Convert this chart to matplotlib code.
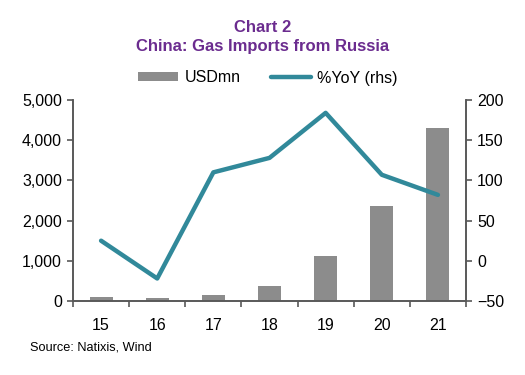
import matplotlib
matplotlib.use("Agg")
import matplotlib.pyplot as plt
import numpy as np
from matplotlib.ticker import FuncFormatter

plt.rcParams['font.family'] = ['Liberation Sans', 'DejaVu Sans']

years = ['15', '16', '17', '18', '19', '20', '21']
usd_mn = [100, 75, 150, 385, 1130, 2370, 4300]
yoy = [25, -22, 110, 128, 184, 107, 82]

purple = '#6B2C8F'
teal = '#31899A'
grey = '#8C8C8C'
axis_col = '#595959'

fig = plt.figure(figsize=(5.25, 3.75), dpi=100)
ax = fig.add_axes([73/525, 1 - 301/375, (466-73)/525, 201/375])
ax2 = ax.twinx()

x = np.arange(len(years))
ax.bar(x, usd_mn, width=0.41, color=grey, label='USDmn', zorder=2)
ax2.plot(x, yoy, color=teal, lw=3.2, solid_capstyle='round', label='%YoY (rhs)')

ax.set_xlim(-0.5, len(years) - 0.5)
ax.set_ylim(0, 5000)
ax.set_yticks(range(0, 5001, 1000))
ax.yaxis.set_major_formatter(FuncFormatter(lambda v, p: f'{int(v):,}'))
ax2.set_ylim(-50, 200)
ax2.set_yticks(range(-50, 201, 50))

ax.set_xticks(x)
ax.set_xticklabels(years)
ax.set_xticks(np.arange(-0.5, len(years), 1), minor=True)
ax.tick_params(axis='x', which='major', length=0, pad=12)
ax.tick_params(axis='x', which='minor', length=4, color=axis_col, width=1.2)

for a in (ax, ax2):
    a.spines['top'].set_visible(False)
    for s in ('left', 'right', 'bottom'):
        a.spines[s].set_color(axis_col)
        a.spines[s].set_linewidth(1.2)
    a.tick_params(axis='y', length=4, width=1.2, color=axis_col, labelsize=11.5, pad=4)
ax.tick_params(axis='x', labelsize=11.5)

fig.text(0.5, 1 - 27/375, 'Chart 2', ha='center', va='center', color=purple,
         fontsize=12, fontweight='bold')
fig.text(0.5, 1 - 46/375, 'China: Gas Imports from Russia', ha='center', va='center',
         color=purple, fontsize=12, fontweight='bold')

h1, l1 = ax.get_legend_handles_labels()
h2, l2 = ax2.get_legend_handles_labels()
fig.legend(h1 + h2, l1 + l2, loc='center', bbox_to_anchor=(0.51, 1 - 78/375), ncol=2,
           frameon=False, fontsize=11.5, handlelength=2.5, handleheight=0.5,
           columnspacing=1.9, handletextpad=0.4)

fig.text(30/525, 1 - 347/375, 'Source: Natixis, Wind', ha='left', va='center', fontsize=9.2)

fig.savefig('out.png', dpi=100)
